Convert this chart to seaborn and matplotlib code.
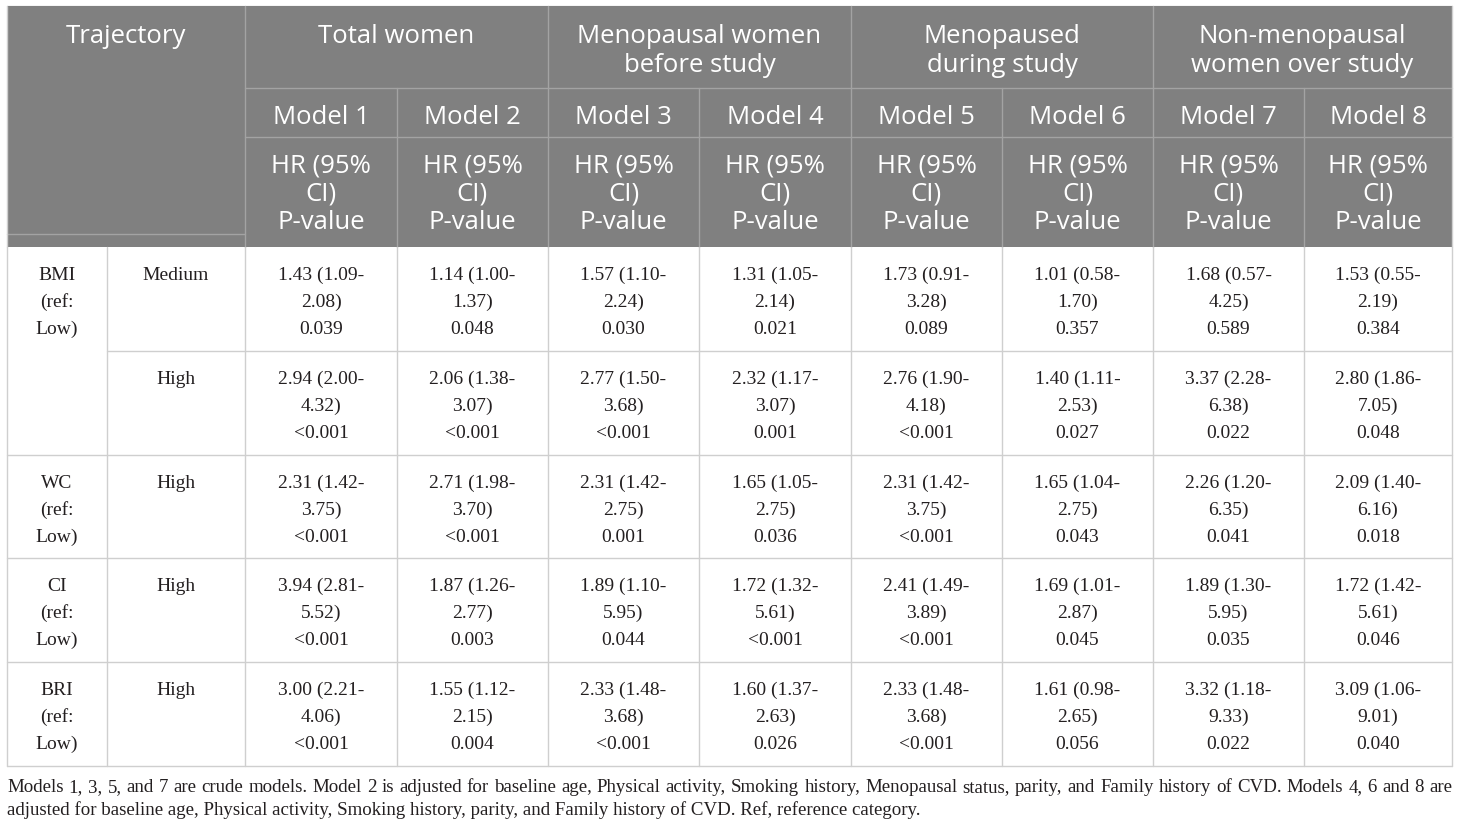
import matplotlib
matplotlib.use("Agg")
import matplotlib.pyplot as plt
import seaborn as sns
from matplotlib.patches import Rectangle

# -------------------------------
# Table content
# -------------------------------
group_labels = ["Total women", "Menopausal women\nbefore study",
                "Menopaused\nduring study", "Non-menopausal\nwomen over study"]
model_labels = ["Model 1", "Model 2", "Model 3", "Model 4",
                "Model 5", "Model 6", "Model 7", "Model 8"]
stat_label = "HR (95%\nCI)\nP-value"

indices = ["BMI", "WC", "CI", "BRI"]
index_rows = [2, 1, 1, 1]          # how many trajectory rows each index spans
levels = ["Medium", "High", "High", "High", "High"]

hr = [
    ["1.43", "1.14", "1.57", "1.31", "1.73", "1.01", "1.68", "1.53"],
    ["2.94", "2.06", "2.77", "2.32", "2.76", "1.40", "3.37", "2.80"],
    ["2.31", "2.71", "2.31", "1.65", "2.31", "1.65", "2.26", "2.09"],
    ["3.94", "1.87", "1.89", "1.72", "2.41", "1.69", "1.89", "1.72"],
    ["3.00", "1.55", "2.33", "1.60", "2.33", "1.61", "3.32", "3.09"],
]
ci_low = [
    ["1.09", "1.00", "1.10", "1.05", "0.91", "0.58", "0.57", "0.55"],
    ["2.00", "1.38", "1.50", "1.17", "1.90", "1.11", "2.28", "1.86"],
    ["1.42", "1.98", "1.42", "1.05", "1.42", "1.04", "1.20", "1.40"],
    ["2.81", "1.26", "1.10", "1.32", "1.49", "1.01", "1.30", "1.42"],
    ["2.21", "1.12", "1.48", "1.37", "1.48", "0.98", "1.18", "1.06"],
]
ci_high = [
    ["2.08", "1.37", "2.24", "2.14", "3.28", "1.70", "4.25", "2.19"],
    ["4.32", "3.07", "3.68", "3.07", "4.18", "2.53", "6.38", "7.05"],
    ["3.75", "3.70", "2.75", "2.75", "3.75", "2.75", "6.35", "6.16"],
    ["5.52", "2.77", "5.95", "5.61", "3.89", "2.87", "5.95", "5.61"],
    ["4.06", "2.15", "3.68", "2.63", "3.68", "2.65", "9.33", "9.01"],
]
p_values = [
    ["0.039", "0.048", "0.030", "0.021", "0.089", "0.357", "0.589", "0.384"],
    ["<0.001", "<0.001", "<0.001", "0.001", "<0.001", "0.027", "0.022", "0.048"],
    ["<0.001", "<0.001", "0.001", "0.036", "<0.001", "0.043", "0.041", "0.018"],
    ["<0.001", "0.003", "0.044", "<0.001", "<0.001", "0.045", "0.035", "0.046"],
    ["<0.001", "0.004", "<0.001", "0.026", "<0.001", "0.056", "0.022", "0.040"],
]

footnote = [
    "Models 1, 3, 5, and 7 are crude models. Model 2 is adjusted for baseline age, Physical activity, "
    "Smoking history, Menopausal status, parity, and Family history of CVD. Models 4, 6 and 8 are",
    "adjusted for baseline age, Physical activity, Smoking history, parity, and Family history of CVD. "
    "Ref, reference category.",
]

# -------------------------------
# Layout (pixels)
# -------------------------------
col_x = [7, 107, 245, 397, 548, 699, 851, 1002, 1153, 1304, 1452]
head_y = [7, 89, 138, 248]
row_y = [248, 352, 456, 559, 663, 767]

header_bg = "#808080"
header_line = "#a3a3a3"
body_line = "#cfcfcf"
text_col = "#231f20"

sns.set_theme(style="white")
head_font = ["Open Sans", "DejaVu Sans"]
body_font = ["Liberation Serif", "DejaVu Serif"]

fig = plt.figure(figsize=(14.6, 8.28), dpi=100)
ax = fig.add_axes([0, 0, 1, 1])
ax.set_xlim(0, 1460)
ax.set_ylim(828, 0)
ax.axis("off")

left, right = col_x[0], col_x[-1]

# header background
ax.add_patch(Rectangle((left, head_y[0]), right - left, head_y[-1] - head_y[0],
                       facecolor=header_bg, edgecolor="none", zorder=1))

# header lines
ax.plot([col_x[2], right], [head_y[1]] * 2, color=header_line, lw=1, zorder=2)
ax.plot([col_x[2], right], [head_y[2]] * 2, color=header_line, lw=1, zorder=2)
ax.plot([left, col_x[2]], [235, 235], color=header_line, lw=1, zorder=2)
for g in range(4):
    x = col_x[2 + 2 * g]
    ax.plot([x, x], [head_y[0], head_y[-1]], color=header_line, lw=1, zorder=2)
    x = col_x[3 + 2 * g]
    ax.plot([x, x], [head_y[1], head_y[-1]], color=header_line, lw=1, zorder=2)

# header text
hkw = dict(color="white", fontsize=18.5, family=head_font, ha="center", va="baseline", zorder=3)
ax.text((col_x[0] + col_x[2]) / 2, 43, "Trajectory", **hkw)
for g, lab in enumerate(group_labels):
    xc = (col_x[2 + 2 * g] + col_x[4 + 2 * g]) / 2
    for i, line in enumerate(lab.split("\n")):
        ax.text(xc, 43 + 29.5 * i, line, **hkw)
for m, lab in enumerate(model_labels):
    xc = (col_x[2 + m] + col_x[3 + m]) / 2
    ax.text(xc, 123.5, lab, **hkw)
    for i, line in enumerate(stat_label.split("\n")):
        ax.text(xc, 172.5 + 28.5 * i, line, **hkw)

# body grid lines
ax.plot([left, right], [head_y[0], head_y[0]], color=body_line, lw=1, zorder=0)
for r in range(1, len(row_y)):
    y = row_y[r]
    x0 = col_x[1] if r == 1 else left
    ax.plot([x0, right], [y, y], color=body_line, lw=1, zorder=2)
for x in col_x:
    ax.plot([x, x], [row_y[0], row_y[-1]], color=body_line, lw=1, zorder=2)
for x in (left, right):
    ax.plot([x, x], [head_y[0], head_y[-1]], color=body_line, lw=1, zorder=2)

# body text
bkw = dict(color=text_col, fontsize=14, family=body_font, ha="center", va="baseline", zorder=3)
r = 0
for name, span in zip(indices, index_rows):
    for i, line in enumerate([name, "(ref:", "Low)"]):
        ax.text((col_x[0] + col_x[1]) / 2, row_y[r] + 32 + 27 * i, line, **bkw)
    r += span
for r, lev in enumerate(levels):
    ax.text((col_x[1] + col_x[2]) / 2, row_y[r] + 32, lev, **bkw)
    for m in range(8):
        xc = (col_x[2 + m] + col_x[3 + m]) / 2
        lines = [f"{hr[r][m]} ({ci_low[r][m]}-", f"{ci_high[r][m]})", p_values[r][m]]
        for i, line in enumerate(lines):
            ax.text(xc, row_y[r] + 32 + 27 * i, line, **bkw)

# footnote: size fitted so the last line ends where it does in the source,
# first line justified to the table width
renderer = fig.canvas.get_renderer()
fkw = dict(color=text_col, fontsize=14, family=body_font, ha="left", va="baseline")
last = ax.text(left, 815.5, footnote[1], **fkw)
size = 14 * 915 / last.get_window_extent(renderer).width
last.set_fontsize(size)
fkw["fontsize"] = size
words = footnote[0].split(" ")
artists = [ax.text(0, 792, w, **fkw) for w in words]
widths = [a.get_window_extent(renderer).width for a in artists]
gap = (right - left - sum(widths)) / (len(words) - 1)
x = left
for a, w in zip(artists, widths):
    a.set_x(x)
    x += w + gap

plt.savefig("out.png", dpi=100)
